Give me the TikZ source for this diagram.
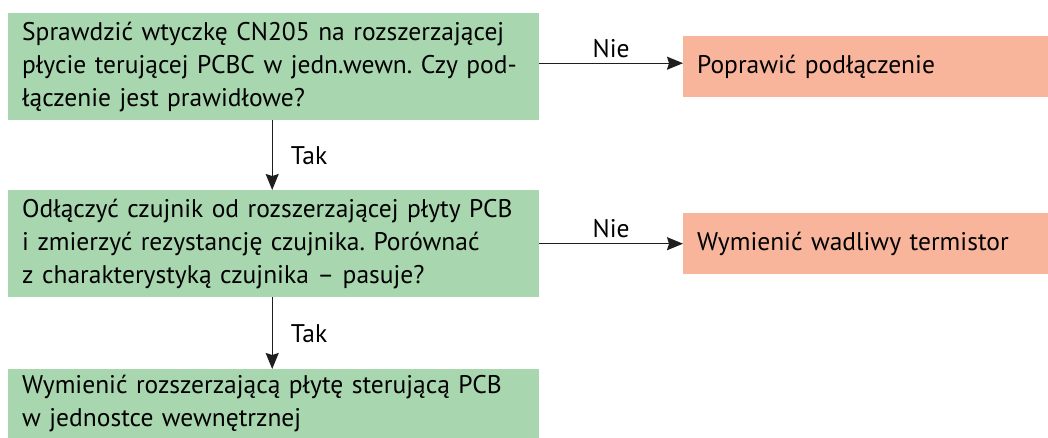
\documentclass[tikz,border=0pt]{standalone}
\usepackage{fontspec}
\setmainfont{PT Sans}
\usetikzlibrary{arrows.meta}
\definecolor{boxgreen}{RGB}{168,214,174}
\definecolor{boxorange}{RGB}{249,181,155}
\definecolor{linegray}{RGB}{30,30,30}
\tikzset{
  txt/.style={font=\fontsize{25.5}{33}\selectfont\frenchspacing, text=black},
  greenbox/.style={txt, fill=boxgreen, anchor=north west, minimum width=531pt,
     text width=503pt, inner xsep=14pt, inner ysep=0pt, align=left},
  orangebox/.style={txt, fill=boxorange, anchor=north west, minimum width=365pt,
     minimum height=61pt, text width=337pt, inner xsep=14pt, inner ysep=0pt, align=left},
  arr/.style={draw=linegray, line width=1.3pt, -{Stealth[length=16pt,width=13pt,inset=2pt]}},
  lbl/.style={txt, inner sep=2pt}
}
\begin{document}
\begin{tikzpicture}[x=1pt,y=1pt]
\useasboundingbox (0,0) rectangle (1048,-438);
\node[greenbox, minimum height=107pt] (b1) at (8,-13)
  {\mbox{Sprawdzić wtyczkę CN205 na rozszerzającej}\\ \mbox{płycie terującej PCBC w jedn.wewn. Czy pod-}\\ \mbox{łączenie jest prawidłowe?}};
\node[greenbox, minimum height=107pt] (b2) at (8,-190)
  {\mbox{Odłączyć czujnik od rozszerzającej płyty PCB}\\ \mbox{i zmierzyć rezystancję czujnika. Porównać}\\ \mbox{z charakterystyką czujnika – pasuje?}};
\node[greenbox, minimum height=69pt] (b3) at (8,-369)
  {\mbox{Wymienić rozszerzającą płytę sterującą PCB}\\ \mbox{w jednostce wewnętrznej}};
\node[orangebox] (o1) at (683,-36) {Poprawić podłączenie};
\node[orangebox] (o2) at (683,-213) {Wymienić wadliwy termistor};
\draw[arr] ([yshift=3.5pt]b1.east) -- node[lbl, above=3pt] (n1) {Nie} ([yshift=3.5pt]o1.west);
\draw[arr] (b2.east) -- node[lbl, above=3pt] (n2) {Nie} (o2.west);
\draw[arr] ([xshift=-1.5pt]b1.south) -- node[lbl, right=16pt] (t1) {Tak} ([xshift=-1.5pt]b2.north);
\draw[arr] ([xshift=-1.5pt]b2.south) -- node[lbl, right=16pt] (t2) {Tak} ([xshift=-1.5pt]b3.north);
\end{tikzpicture}
\end{document}
